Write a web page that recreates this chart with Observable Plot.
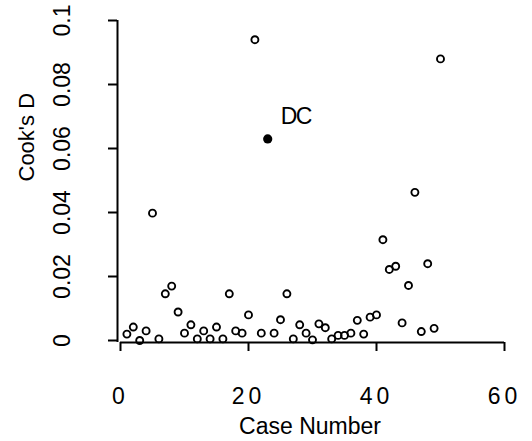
<!DOCTYPE html>
<html>
<head>
<meta charset="utf-8">
<script src="https://cdn.jsdelivr.net/npm/d3@7"></script>
<script src="https://cdn.jsdelivr.net/npm/@observablehq/plot@0.6"></script>
<style>
  html, body { margin: 0; padding: 0; background: #fff; }
  #chart svg { display: block; }
  g[aria-label="x-axis tick label"] text { letter-spacing: 4px; }
  g[aria-label="text"].dc text { letter-spacing: -1.5px; }
</style>
</head>
<body>
<div id="chart"></div>
<script>
// Case numbers 1..50 and Cook's distance values
const caseNumbers = [
  1,2,3,4,5,6,7,8,9,10,
  11,12,13,14,15,16,17,18,19,20,
  21,22,23,24,25,26,27,28,29,30,
  31,32,33,34,35,36,37,38,39,40,
  41,42,43,44,45,46,47,48,49,50
];
const cooksD = [
  0.0020,0.0042,0.0000,0.0030,0.0398,0.0005,0.0146,0.0170,0.0089,0.0023,
  0.0049,0.0005,0.0030,0.0005,0.0042,0.0005,0.0146,0.0030,0.0023,0.0080,
  0.0940,0.0023,0.0630,0.0023,0.0065,0.0146,0.0005,0.0049,0.0023,0.0002,
  0.0052,0.0040,0.0005,0.0016,0.0016,0.0023,0.0063,0.0020,0.0073,0.0080,
  0.0315,0.0222,0.0232,0.0055,0.0172,0.0463,0.0028,0.0240,0.0038,0.0880
];
const highlightedCase = 23;
const highlightedLabel = "DC";

const xTicks = [0, 20, 40, 60];
const xTickLabels = ["0", "20", "40", "60"];
const yTicks = [0, 0.02, 0.04, 0.06, 0.08, 0.1];
const yTickLabels = ["0", "0.02", "0.04", "0.06", "0.08", "0.1"];
const xTitle = "Case Number";
const yTitle = "Cook's D";

const data = caseNumbers.map((c, i) => ({caseNo: c, d: cooksD[i]}));
const others = data.filter(r => r.caseNo !== highlightedCase);
const special = data.filter(r => r.caseNo === highlightedCase);

const xMin = -3 / 6.4;      // axis line sits just left of 0
const yMin = -2 / 3200;     // x axis line sits just below 0
const font = "'Liberation Sans', Arial, Helvetica, sans-serif";

const chart = Plot.plot({
  width: 532,
  height: 441,
  marginLeft: 117,
  marginRight: 28,
  marginTop: 20,
  marginBottom: 99,
  style: {fontFamily: font, color: "#000", background: "#fff"},
  x: {domain: [xMin, 60], axis: null},
  y: {domain: [yMin, 0.1], axis: null},
  marks: [
    // axis lines
    Plot.ruleX([xMin], {y1: yMin, y2: 0.1, strokeWidth: 2, stroke: "#000"}),
    Plot.ruleY([yMin], {x1: 0, x2: 60, strokeWidth: 2, stroke: "#000"}),
    // y axis ticks + rotated labels
    Plot.axisY(yTicks, {
      anchor: "left",
      tickSize: 9,
      strokeWidth: 2,
      tickRotate: -90,
      tickPadding: 39,
      fontSize: 23,
      fill: "#000",
      tickFormat: d => yTickLabels[yTicks.indexOf(d)],
      label: null
    }),
    // x axis ticks + labels
    Plot.axisX(xTicks, {
      anchor: "bottom",
      tickSize: 9,
      strokeWidth: 2,
      tickPadding: 36,
      fontSize: 23,
      fill: "#000",
      tickFormat: d => xTickLabels[xTicks.indexOf(d)],
      label: null
    }),
    // axis titles
    Plot.text([xTitle], {frameAnchor: "bottom", dy: 91, fontSize: 23, fill: "#000", dx: -1}),
    Plot.text([yTitle], {frameAnchor: "left", rotate: -90, dx: -91, fontSize: 22, fill: "#000"}),
    // points
    Plot.dot(others, {x: "caseNo", y: "d", r: 3.5, stroke: "#000", strokeWidth: 1.9, fill: "none"}),
    Plot.dot(special, {x: "caseNo", y: "d", r: 4.6, fill: "#000", stroke: "none"}),
    Plot.text(special, {x: "caseNo", y: "d", text: () => highlightedLabel, textAnchor: "start",
      dx: 13, dy: -22, fontSize: 23, fill: "#000", className: "dc"})
  ]
});
document.getElementById("chart").appendChild(chart);
</script>
</body>
</html>
